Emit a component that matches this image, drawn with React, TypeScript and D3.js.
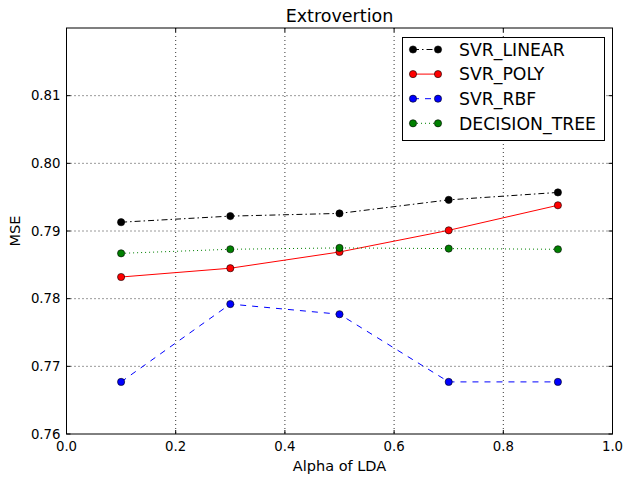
import React from "react";
import * as d3 from "d3";

const alphas = [0.1, 0.3, 0.5, 0.7, 0.9];
const svrLinear = [0.7913, 0.7922, 0.7926, 0.7946, 0.7957];
const svrPoly = [0.7832, 0.7845, 0.7869, 0.7901, 0.7938];
const svrRbf = [0.7677, 0.7792, 0.7777, 0.7677, 0.7677];
const decisionTree = [0.7867, 0.7873, 0.7875, 0.7874, 0.7873];
const xTicks = [0.0, 0.2, 0.4, 0.6, 0.8, 1.0];
const yTicks = [0.76, 0.77, 0.78, 0.79, 0.8, 0.81];

const seriesNames = ["SVR_LINEAR", "SVR_POLY", "SVR_RBF", "DECISION_TREE"];
const seriesValues = [svrLinear, svrPoly, svrRbf, decisionTree];
const seriesColors = ["#000000", "#ff0000", "#0000ff", "#008000"];
const seriesDash = ["6,3,1.5,3", "none", "6,6", "1,3"];

export default function App() {
  const W = 625, H = 478;
  const m = { left: 66.5, right: 612.5, top: 28, bottom: 434 };
  const x = d3.scaleLinear().domain([0, 1]).range([m.left, m.right]);
  const y = d3.scaleLinear().domain([0.76, 0.82]).range([m.bottom, m.top]);
  const line = d3.line<[number, number]>().x(d => x(d[0])).y(d => y(d[1]));
  const font = "DejaVu Sans, sans-serif";

  return (
    <svg width={W} height={H} style={{ position: "absolute", left: 0, top: 0 }} fontFamily={font}>
      <rect x={0} y={0} width={W} height={H} fill="white" />
      {/* grid */}
      {xTicks.slice(1, -1).map(t => (
        <line key={"gx" + t} x1={x(t)} x2={x(t)} y1={m.top} y2={m.bottom} stroke="black" strokeWidth={0.8} strokeDasharray="1,3" />
      ))}
      {yTicks.slice(1).map(t => (
        <line key={"gy" + t} x1={m.left} x2={m.right} y1={y(t)} y2={y(t)} stroke="black" strokeWidth={0.8} strokeDasharray="1,3" />
      ))}
      {/* series */}
      {seriesValues.map((vals, i) => (
        <g key={seriesNames[i]}>
          <path d={line(alphas.map((a, j) => [a, vals[j]] as [number, number])) || ""} fill="none" stroke={seriesColors[i]} strokeWidth={1} strokeDasharray={seriesDash[i]} />
          {alphas.map((a, j) => (
            <circle key={j} cx={x(a)} cy={y(vals[j])} r={3.6} fill={seriesColors[i]} stroke="black" strokeWidth={0.6} />
          ))}
        </g>
      ))}
      {/* frame */}
      <rect x={m.left} y={m.top} width={m.right - m.left} height={m.bottom - m.top} fill="none" stroke="black" strokeWidth={1} />
      {/* ticks */}
      {xTicks.map(t => (
        <g key={"tx" + t}>
          <line x1={x(t)} x2={x(t)} y1={m.bottom} y2={m.bottom - 4} stroke="black" />
          <line x1={x(t)} x2={x(t)} y1={m.top} y2={m.top + 4} stroke="black" />
          <text x={x(t)} y={m.bottom + 17} textAnchor="middle" fontSize={13.3}>{t.toFixed(1)}</text>
        </g>
      ))}
      {yTicks.map(t => (
        <g key={"ty" + t}>
          <line x1={m.left} x2={m.left + 4} y1={y(t)} y2={y(t)} stroke="black" />
          <line x1={m.right} x2={m.right - 4} y1={y(t)} y2={y(t)} stroke="black" />
          <text x={m.left - 6} y={y(t) + 4.8} textAnchor="end" fontSize={13.3}>{t.toFixed(2)}</text>
        </g>
      ))}
      {/* labels */}
      <text x={(m.left + m.right) / 2} y={22} textAnchor="middle" fontSize={17.5}>Extrovertion</text>
      <text x={(m.left + m.right) / 2} y={471} textAnchor="middle" fontSize={14.5}>Alpha of LDA</text>
      <text transform={`translate(20,${(m.top + m.bottom) / 2}) rotate(-90)`} textAnchor="middle" fontSize={14.5}>MSE</text>
      {/* legend */}
      <rect x={402.5} y={37.5} width={202} height={103} fill="white" stroke="black" strokeWidth={1} />
      {seriesNames.map((n, i) => {
        const ly = 49.5 + i * 24.6;
        return (
          <g key={"lg" + n}>
            <line x1={413} x2={438} y1={ly} y2={ly} stroke={seriesColors[i]} strokeWidth={1} strokeDasharray={seriesDash[i]} />
            <circle cx={413} cy={ly} r={3.6} fill={seriesColors[i]} stroke="black" strokeWidth={0.6} />
            <circle cx={438} cy={ly} r={3.6} fill={seriesColors[i]} stroke="black" strokeWidth={0.6} />
            <text x={459} y={ly + 6.2} fontSize={17.3}>{n}</text>
          </g>
        );
      })}
    </svg>
  );
}
